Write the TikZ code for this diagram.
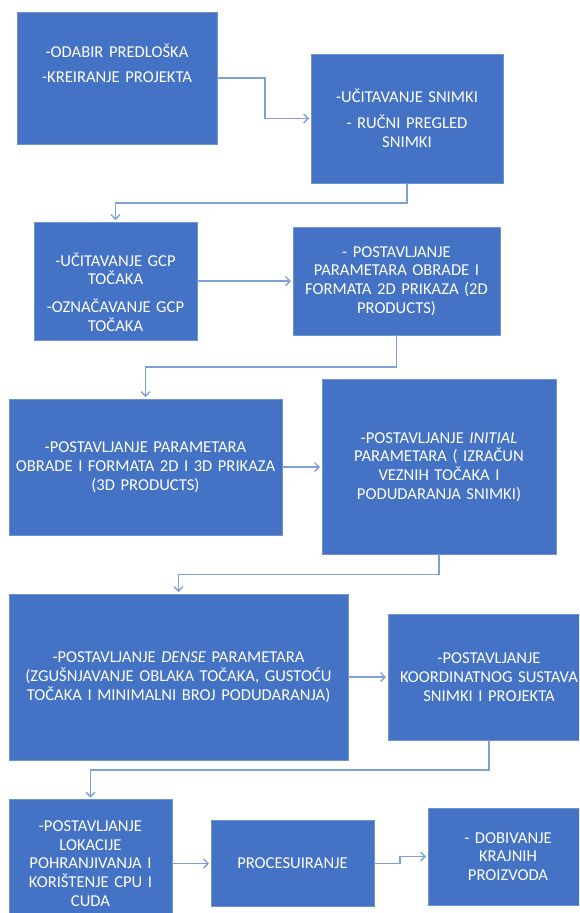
\documentclass[tikz,border=0pt]{standalone}
\usepackage{fontspec}
\setmainfont{Carlito}
\usetikzlibrary{arrows.meta}
\definecolor{boxblue}{HTML}{4472C4}
\definecolor{boxedge}{HTML}{6F92D2}
\definecolor{linkblue}{HTML}{7F9FD8}
\begin{document}
\begin{tikzpicture}[x=1pt,y=-1pt,
  stepbox/.style={rectangle, fill=boxblue, draw=boxedge, line width=0.6pt,
    inner sep=0pt, outer sep=0pt, text=white, align=center,
    font=\fontsize{16.6}{18.8}\selectfont},
  link/.style={draw=linkblue, line width=1.4pt, shorten >=2pt,
    -{Straight Barb[length=4.5pt,width=9pt]}}
]
\clip (0,0) rectangle (579,913);
\fill[white] (0,0) rectangle (579,913);

\node[stepbox, minimum width=200pt, minimum height=132pt, text width=192pt,
  text height=10pt, text depth=52pt] (b1) at (117,78)
  {-ODABIR PREDLOŠKA\\[6.5pt]-KREIRANJE PROJEKTA};
\node[stepbox, minimum width=192pt, minimum height=129pt, text width=184pt] (b2) at (407,118.5)
  {-UČITAVANJE SNIMKI\\[7pt]- RUČNI PREGLED\\SNIMKI};
\node[stepbox, minimum width=163pt, minimum height=118pt, text width=159pt,
  text height=10pt, text depth=40pt] (b3) at (115.5,281)
  {-UČITAVANJE GCP\\TOČAKA\\[9pt]-OZNAČAVANJE GCP\\TOČAKA};
\node[stepbox, minimum width=207pt, minimum height=108pt, text width=201pt] (b4) at (396.5,281)
  {- POSTAVLJANJE\\PARAMETARA OBRADE I\\FORMATA 2D PRIKAZA (2D\\PRODUCTS)};
\node[stepbox, minimum width=273pt, minimum height=136pt, text width=269pt] (b5) at (145.5,467)
  {-POSTAVLJANJE PARAMETARA\\OBRADE I FORMATA 2D I 3D PRIKAZA\\(3D PRODUCTS)};
\node[stepbox, minimum width=234pt, minimum height=175pt, text width=228pt] (b6) at (439,467)
  {-POSTAVLJANJE \textit{INITIAL}\\PARAMETARA ( IZRAČUN\\VEZNIH TOČAKA I\\PODUDARANJA SNIMKI)};
\node[stepbox, minimum width=339pt, minimum height=166pt, text width=335pt] (b7) at (178.5,677)
  {-POSTAVLJANJE \textit{DENSE} PARAMETARA\\(ZGUŠNJAVANJE OBLAKA TOČAKA, GUSTOĆU\\TOČAKA I MINIMALNI BROJ PODUDARANJA)};
\node[stepbox, minimum width=202pt, minimum height=126pt, text width=198pt] (b8) at (489,677)
  {-POSTAVLJANJE\\KOORDINATNOG SUSTAVA\\SNIMKI I PROJEKTA};
\node[stepbox, minimum width=163pt, minimum height=128pt, text width=159pt] (b9) at (90.5,863.5)
  {-POSTAVLJANJE\\LOKACIJE\\POHRANJIVANJA I\\KORIŠTENJE CPU I\\CUDA};
\node[stepbox, minimum width=163pt, minimum height=86pt, text width=159pt] (b10) at (292.5,863.5)
  {PROCESUIRANJE};
\node[stepbox, minimum width=160pt, minimum height=97pt, text width=156pt] (b11) at (508,856.5)
  {- DOBIVANJE\\KRAJNIH\\PROIZVODA};

\draw[link] (b1.east) -- ++(48,0) |- (b2.west);
\draw[link] (b2.south) -- ++(0,20) -| (b3.north);
\draw[link] (b3.east) -- (b4.west);
\draw[link] (b4.south) -- ++(0,32) -| (b5.north);
\draw[link] (b5.east) -- (b6.west);
\draw[link] (b6.south) -- ++(0,20) -| (b7.north);
\draw[link] (b7.east) -- (b8.west);
\draw[link] (b8.south) -- ++(0,30) -| (b9.north);
\draw[link] (b9.east) -- (b10.west);
\draw[link] (b10.east) -- ++(26,0) |- (b11.west);
\end{tikzpicture}
\end{document}
